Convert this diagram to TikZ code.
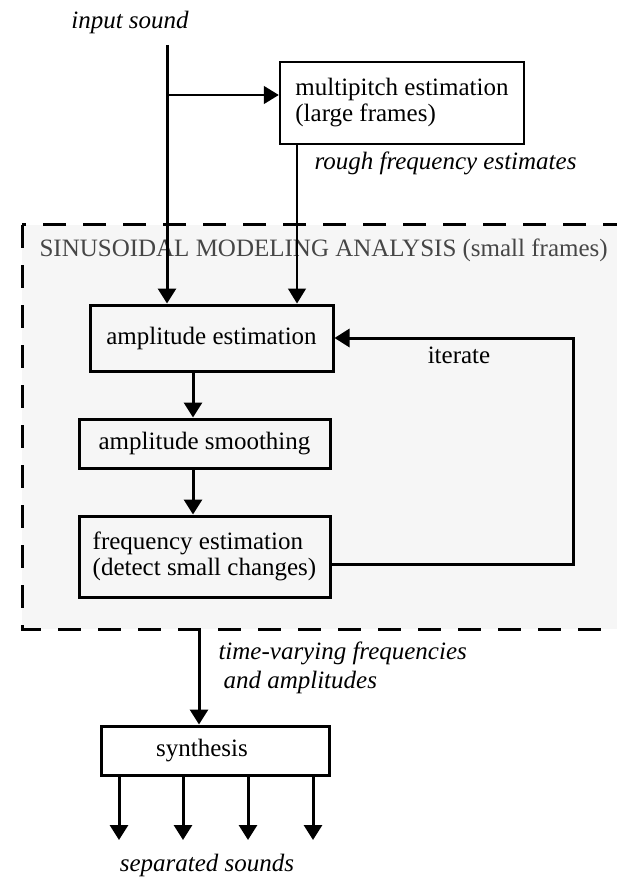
\documentclass[tikz,border=0pt]{standalone}
\usepackage{fontspec}
\setmainfont{Liberation Serif}
\usetikzlibrary{arrows.meta}
\definecolor{panelgray}{RGB}{246,246,246}
\definecolor{titlegray}{RGB}{70,70,70}

\begin{document}
\begin{tikzpicture}[x=1pt,y=1pt,yscale=-1,
  every node/.style={font=\fontsize{25}{26}\selectfont},
  blk/.style={draw,line width=3pt,inner sep=0pt},
  thk/.style={line width=3pt,-{Triangle[width=18pt,length=15pt]}},
  thn/.style={line width=1.5pt,-{Triangle[width=18pt,length=15pt]}},
  lbl/.style={font=\fontsize{25}{29}\selectfont\itshape}]
\useasboundingbox (0,0) rectangle (617,877);

%Dashed Region
\begin{scope}
\clip (0,0) rectangle (617,877);
\draw [dash pattern=on 23pt off 17pt,line width=3pt,fill=panelgray] (22,225) rectangle (660,629);
\end{scope}
% Text Node
\node [anchor=west,text=titlegray] (title) at (36,250) {SINUSOIDAL MODELING ANALYSIS (small frames)};

%Boxes
\node [blk,line width=2.5pt,minimum width=244pt,minimum height=82pt,align=left] (multi) at (402,103) {multipitch estimation\\(large frames)};
\node [blk,minimum width=243pt,minimum height=66pt] (ampest) at (211.5,338) {amplitude estimation};
\node [blk,minimum width=251pt,minimum height=49pt] (ampsm) at (204.5,443.5) {amplitude smoothing};
\node [blk,minimum width=251pt,minimum height=81pt,align=left] (freqest) at (204.5,556.5) {frequency estimation\\(detect small changes)};
\node [blk,minimum width=228pt,minimum height=49pt] (synth) at (215,750.5) {synthesis\kern26pt};

% Text Node
\node [lbl] (insound) at (130,22) {input sound};
% Text Node
\node [lbl,anchor=west] (rough) at (311,163) {rough frequency estimates};
% Text Node
\node (iter) at (459,355) {iterate};
% Text Node
\node [lbl,anchor=west,align=left] (tvf) at (215,668) {time-varying frequencies\\\hspace*{5pt}and amplitudes};
% Text Node
\node [lbl] (sepsnd) at (207,865) {separated sounds};

\coordinate (src) at (167,45);
\coordinate (split) at (167,95);
\coordinate (midx) at (193,0);
\coordinate (loopr) at (573,338);
\coordinate (out) at (199,629);

%Straight Lines
\draw [thk] (src) -- (src |- ampest.north);
\draw [thn] (split) -- (split -| multi.west);
\draw [thn] ([xshift=-105pt]multi.south) -- ([xshift=-105pt]multi.south |- ampest.north);
\draw [thk] (ampest.south -| midx) -- (ampsm.north -| midx);
\draw [thk] (ampsm.south -| midx) -- (freqest.north -| midx);
\draw [thk] ([yshift=7.5pt]freqest.east) -| (loopr) -- (ampest.east);
\draw [thk] (out) -- (out |- synth.north);
\foreach \i/\x in {1/119,2/183,3/248,4/313} {
  \coordinate (sep\i) at (\x,840);
  \draw [thk] (synth.south -| sep\i) -- (sep\i);
}

\end{tikzpicture}
\end{document}
